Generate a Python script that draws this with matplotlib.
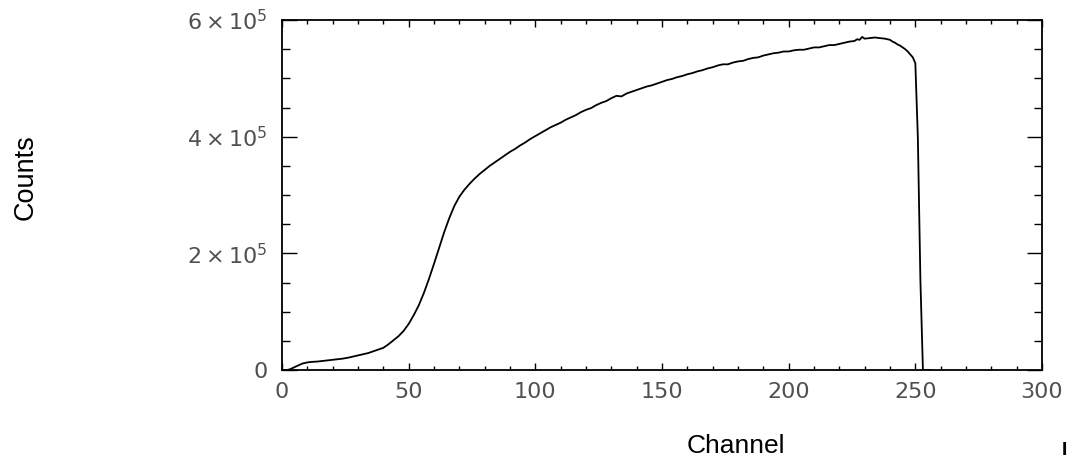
import matplotlib
matplotlib.use("Agg")
import matplotlib.pyplot as plt
from matplotlib.ticker import MultipleLocator, FixedLocator, FixedFormatter

plt.rcParams['mathtext.fontset'] = 'dejavusans'

# Pulse-height spectrum: channel number vs. counts (in thousands)
channel = [0, 2, 3, 4, 5, 6, 7, 8, 9, 10, 12, 14, 16, 18, 20, 22, 24, 26, 28, 30,
           32, 34, 36, 38, 40, 42, 44, 46, 48, 50, 52, 54, 56, 58, 60, 62, 64, 66,
           68, 70, 72, 74, 76, 78, 80, 82, 84, 86, 88, 90, 92, 94, 96, 98, 100,
           102, 104, 106, 108, 110, 112, 114, 116, 118, 120, 122, 124, 126, 128,
           130, 132, 134, 136, 138, 140, 142, 144, 146, 148, 150, 152, 154, 156,
           158, 160, 162, 164, 166, 168, 170, 172, 174, 176, 178, 180, 182, 184,
           186, 188, 190, 192, 194, 196, 198, 200, 202, 204, 206, 208, 210, 212,
           214, 216, 218, 220, 222, 224, 226, 227, 228, 229, 230, 232, 234, 236,
           238, 240, 241, 242, 243, 244, 245, 246, 247, 248, 249, 250, 251, 252,
           253, 254, 256]
counts_k = [0, 0, 1, 3, 5, 7, 9, 11, 12, 13, 14, 14.5, 15.5, 16.5, 17.5, 18.5,
            19.5, 21, 23, 25, 27, 29, 32, 35, 38, 44, 51, 58, 67, 79, 94, 111, 132,
            156, 182, 209, 236, 260, 281, 297, 309, 319, 328, 336, 343, 350, 356,
            362, 368, 374, 379, 385, 390, 396, 401, 406, 411, 416, 420, 424, 429,
            433, 437, 442, 446, 449, 454, 458, 461, 466, 470, 469, 474, 477, 480,
            483, 486, 488, 491, 494, 497, 499, 502, 504, 507, 509, 512, 514, 517,
            519, 522, 524, 524, 527, 529, 530, 533, 535, 536, 539, 541, 543, 544,
            546, 546, 548, 549, 549, 551, 553, 553, 555, 557, 557, 559, 561, 563,
            564, 567, 566, 571, 568, 569, 570, 569, 568, 566, 563, 561, 558, 556,
            553, 550, 546, 541, 536, 526, 398, 154, 0, 0, 0]

x_ticks = [0, 50, 100, 150, 200, 250, 300]
x_labels = ['0', '50', '100', '150', '200', '250', '300']
y_ticks = [0, 2e5, 4e5, 6e5]
y_labels = ['0', r'$2\times10^{5}$', r'$4\times10^{5}$', r'$6\times10^{5}$']

W, H = 1077, 457
fig = plt.figure(figsize=(W / 100, H / 100), dpi=100)
ax = fig.add_axes([282 / W, (H - 370) / H, (1042 - 282) / W, (370 - 20) / H])

counts = [c * 1000 for c in counts_k]
ax.plot(channel, counts, color='black', lw=1.3)

ax.set_xlim(0, 300)
ax.set_ylim(0, 6e5)

ax.xaxis.set_major_locator(FixedLocator(x_ticks))
ax.xaxis.set_major_formatter(FixedFormatter(x_labels))
ax.xaxis.set_minor_locator(MultipleLocator(10))
ax.yaxis.set_major_locator(FixedLocator(y_ticks))
ax.yaxis.set_major_formatter(FixedFormatter(y_labels))
ax.yaxis.set_minor_locator(MultipleLocator(5e4))

ax.tick_params(which='both', direction='in', top=True, right=True,
               color='black', width=1.0, labelcolor='#505050', labelsize=16)
ax.tick_params(axis='x', which='major', length=5, pad=9)
ax.tick_params(axis='x', which='minor', length=3)
ax.tick_params(axis='y', which='major', length=11, pad=10)
ax.tick_params(axis='y', which='minor', length=6)

for s in ax.spines.values():
    s.set_linewidth(1.3)
    s.set_color('black')

fig.text(736 / W, 1 - 453 / H, 'Channel', family='Liberation Sans', fontsize=19,
         ha='center', va='baseline')
fig.text(33 / W, 1 - 177 / H, 'Counts', family='Liberation Sans', fontsize=19.5,
         rotation=90, rotation_mode='anchor', ha='center', va='baseline')
fig.text(1064.5 / W, 1 - 455 / H, 'I', family='Liberation Sans', fontsize=14,
         weight='bold', ha='center', va='baseline')

fig.savefig('out.png', dpi=100)
